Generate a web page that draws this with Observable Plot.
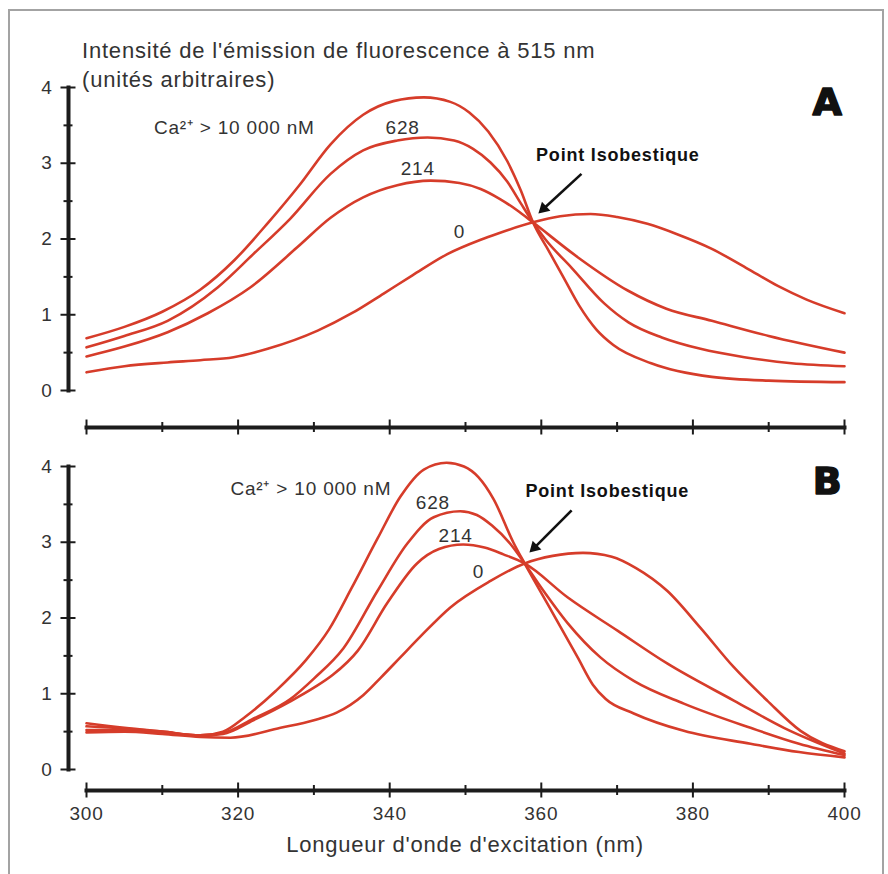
<!DOCTYPE html>
<html><head><meta charset="utf-8">
<script src="https://cdn.jsdelivr.net/npm/d3@7"></script>
<script src="https://cdn.jsdelivr.net/npm/@observablehq/plot@0.6"></script>
<style>
body{margin:0;background:#fff;width:888px;height:874px;overflow:hidden;position:relative;font-family:"Liberation Sans",Arial,sans-serif;color:#333}
#frame{position:absolute;left:8px;top:9px;width:872px;height:900px;border:2px solid #a3a3a3;pointer-events:none;z-index:5}
#pa{position:absolute;left:0;top:0}
#pb{position:absolute;left:0;top:440px}
.title{position:absolute;left:82px;top:37px;font-size:22px;letter-spacing:0.8px;line-height:28.7px;color:#333;white-space:nowrap;z-index:4}
.xlabel{position:absolute;left:165px;width:600px;top:834px;text-align:center;font-size:22px;letter-spacing:0.8px;line-height:22px;color:#333;z-index:4}
</style></head><body>
<div id="pa"></div><div id="pb"></div>
<div class="title">Intensité de l'émission de fluorescence à 515 nm<br>(unités arbitraires)</div>
<div class="xlabel">Longueur d'onde d'excitation (nm)</div>
<div id="frame"></div>
<script>
// Concentrations (series)
const series = ["Ca²⁺ > 10 000 nM", "628", "214", "0"];
// Panel A: [wavelength nm, intensity]
const A_10000 = [[300,0.69],[305,0.84],[310,1.04],[315,1.33],[319.5,1.72],[324,2.22],[328,2.70],[332.2,3.25],[336.5,3.64],[340.5,3.82],[344.5,3.87],[348,3.81],[350.5,3.67],[353,3.42],[355.5,3.03],[357.3,2.64],[358.9,2.22],[361,1.84],[363,1.48],[365,1.12],[367.3,0.8],[369.5,0.6],[374.5,0.36],[382.5,0.18],[390,0.13],[400,0.11]];
const A_628 = [[300,0.57],[305,0.72],[310.7,0.92],[317.3,1.36],[322,1.8],[326.8,2.26],[332.2,2.86],[336.5,3.17],[341,3.30],[345,3.34],[348.5,3.30],[351,3.19],[353.3,3.01],[355.5,2.76],[357.3,2.47],[358.9,2.22],[360.5,2.0],[364,1.62],[368.3,1.15],[371.5,0.9],[375.9,0.70],[381,0.55],[386.8,0.44],[393,0.36],[400,0.32]];
const A_214 = [[300,0.45],[305,0.58],[310.7,0.77],[316,1.02],[321.6,1.36],[327.8,1.89],[332.2,2.28],[336.5,2.55],[341,2.71],[345.4,2.77],[349.2,2.74],[352,2.66],[354.5,2.53],[356.8,2.38],[358.9,2.22],[364.8,1.76],[371.4,1.32],[376.5,1.08],[382.5,0.92],[390,0.72],[400,0.50]];
const A_0 = [[300,0.24],[305,0.32],[310.7,0.37],[315,0.40],[319.4,0.44],[323.9,0.55],[330.5,0.79],[335,1.02],[339.2,1.28],[343,1.52],[347.6,1.80],[352,1.99],[354.2,2.07],[358.9,2.22],[362.5,2.30],[366.5,2.33],[370,2.29],[374,2.2],[378,2.06],[382.5,1.87],[387,1.62],[391.2,1.38],[395,1.2],[400,1.02]];
// Panel B
const B_10000 = [[300,0.57],[305,0.54],[310,0.5],[315,0.45],[318,0.5],[321,0.7],[325,1.04],[329,1.45],[332,1.85],[335,2.4],[338.4,3.05],[341.4,3.6],[344.5,3.96],[347.5,4.05],[349.8,4.0],[351.7,3.86],[353.7,3.57],[356.3,3.0],[357.8,2.72],[361.2,2.12],[364.8,1.48],[366.8,1.12],[368.5,0.93],[372.2,0.74],[378.8,0.51],[387.6,0.34],[394,0.23],[400,0.16]];
const B_628 = [[300,0.61],[305,0.55],[310,0.5],[315,0.45],[318,0.48],[322,0.67],[326.9,0.93],[330,1.2],[333.9,1.6],[338.4,2.36],[342.3,2.98],[345.8,3.33],[349.3,3.41],[351.5,3.36],[353.5,3.22],[355.9,2.98],[357.8,2.72],[360,2.4],[363.5,1.93],[367.8,1.48],[372.2,1.17],[378.8,0.87],[387.6,0.55],[394,0.34],[400,0.19]];
const B_214 = [[300,0.52],[305,0.52],[310,0.49],[315,0.45],[318,0.47],[322,0.65],[326.9,0.9],[330,1.08],[332.5,1.25],[335.8,1.57],[339.7,2.2],[343.6,2.72],[346.5,2.91],[349.7,2.97],[352.5,2.93],[355,2.84],[357.8,2.72],[363.5,2.27],[370.1,1.83],[376.6,1.40],[385.4,0.91],[392,0.55],[400,0.21]];
const B_0 = [[300,0.49],[305,0.5],[310,0.47],[315,0.43],[319,0.42],[325.6,0.55],[330,0.65],[333,0.75],[336.5,0.98],[338.8,1.21],[341.4,1.48],[344,1.75],[348,2.14],[353.3,2.49],[357.8,2.72],[361.5,2.82],[365.5,2.86],[369.3,2.81],[372.5,2.66],[376.6,2.36],[381,1.87],[385.4,1.35],[389.8,0.91],[394.2,0.51],[400,0.24]];

// Axis ticks
const xMajor = [300, 320, 340, 360, 380, 400];
const xMinor = [310, 330, 350, 370, 390];
const yMajor = [0, 1, 2, 3, 4];
const yMinor = [0.5, 1.5, 2.5, 3.5];

// Annotations (data units)
const labelsA = [
  {t: series[0], x: 319.5, y: 3.46}, {t: series[1], x: 341.7, y: 3.47},
  {t: series[2], x: 343.7, y: 2.93}, {t: series[3], x: 349.2, y: 2.09}];
const labelsB = [
  {t: series[0], x: 329.6, y: 3.71}, {t: series[1], x: 345.7, y: 3.52},
  {t: series[2], x: 348.7, y: 3.09}, {t: series[3], x: 351.7, y: 2.61}];
const isoA = {t: "Point Isobestique", x: 370.1, y: 3.10, x1: 365.3, y1: 2.86, x2: 360.3, y2: 2.40, rot: 227};
const isoB = {t: "Point Isobestique", x: 368.7, y: 3.67, x1: 364.0, y1: 3.42, x2: 359.1, y2: 2.93, rot: 225};

function rows(list) {
  return list.flatMap((pts, i) => pts.map(([nm, v]) => ({s: series[i], nm, v})));
}
const dataA = rows([A_10000, A_628, A_214, A_0]);
const dataB = rows([B_10000, B_628, B_214, B_0]);

const RED = "#d63c2a", INK = "#1c1c1c", TXT = "#333";
const FONT = "'Liberation Sans', Arial, sans-serif";

function panel(data, labels, iso, letter, opts, showXLabels) {
  const marks = [
    Plot.frame({anchor: "left", insetBottom: opts.insetBottom, stroke: INK, strokeWidth: 4}),
    Plot.frame({anchor: "bottom", insetLeft: 18, stroke: INK, strokeWidth: 4}),
    Plot.axisY({ticks: yMajor, tickSize: 15, dx: 7.5, fill: "none", stroke: INK, strokeWidth: 2, label: null}),
    Plot.axisY({ticks: yMinor, tickSize: 9, dx: 4.5, fill: "none", stroke: INK, strokeWidth: 2, label: null}),
    Plot.axisY({ticks: yMajor, tickSize: 0, tickPadding: 16, tickFormat: d3.format("d"), fontSize: 19, fill: TXT, label: null}),
    Plot.axisX({ticks: xMajor, tickSize: 15, dy: -7.5, fill: "none", stroke: INK, strokeWidth: 2, label: null}),
    Plot.axisX({ticks: xMinor, tickSize: 10, dy: -5, fill: "none", stroke: INK, strokeWidth: 2, label: null}),
    Plot.line(data, {x: "nm", y: "v", z: "s", stroke: RED, strokeWidth: 2.6, curve: "monotone-x"}),
    Plot.text(labels, {x: "x", y: "y", text: "t", fontSize: 19, fill: TXT, textAnchor: "middle", lineAnchor: "middle"}),
    Plot.text([iso], {x: "x", y: "y", text: "t", fontSize: 18, fontWeight: "bold", fill: "#111", textAnchor: "middle", lineAnchor: "middle"}),
    Plot.link([iso], {x1: "x1", y1: "y1", x2: "x2", y2: "y2", stroke: "#111", strokeWidth: 2.6}),
    Plot.dot([iso], {x: "x2", y: "y2", symbol: "triangle", r: 4.6, rotate: "rot", fill: "#111", stroke: "none"}),
    Plot.text([letter], {frameAnchor: "top-right", dx: -17, dy: 15, fontSize: 38, fontWeight: "bold", fontFamily: "DejaVu Sans", fill: "#111", stroke: "#111", strokeWidth: 1.6, textAnchor: "middle", lineAnchor: "middle"})
  ];
  if (showXLabels) marks.push(Plot.axisX({ticks: xMajor, tickSize: 0, tickPadding: 16, tickFormat: d3.format("d"), fontSize: 19, fill: TXT, label: null}));
  return Plot.plot({
    width: 888,
    height: opts.height,
    marginLeft: 68, insetLeft: 18, marginRight: 44,
    marginTop: opts.marginTop, marginBottom: opts.marginBottom, insetBottom: opts.insetBottom,
    x: {domain: [300, 400], label: null},
    y: {domain: [0, 4], label: null},
    style: {background: "transparent", fontFamily: FONT, color: INK, letterSpacing: "0.8px", overflow: "visible"},
    marks
  });
}

document.getElementById("pa").append(panel(dataA, labelsA, isoA, "A", {height: 440, marginTop: 87, marginBottom: 13, insetBottom: 37}, false));
document.getElementById("pb").append(panel(dataB, labelsB, isoB, "B", {height: 434, marginTop: 26, marginBottom: 84, insetBottom: 21}, true));
</script>
</body></html>
